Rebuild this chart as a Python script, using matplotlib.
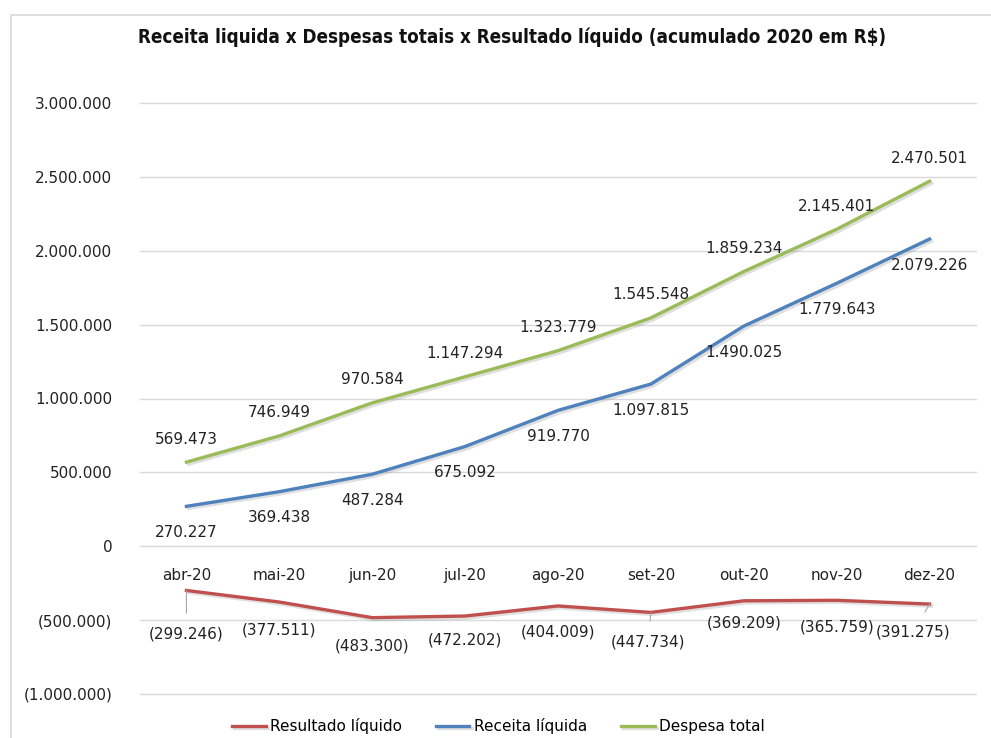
import matplotlib
matplotlib.use("Agg")
import matplotlib.pyplot as plt
from matplotlib.patches import Rectangle
from matplotlib.ticker import FuncFormatter
import matplotlib.patheffects as pe

months = ["abr-20", "mai-20", "jun-20", "jul-20", "ago-20", "set-20", "out-20", "nov-20", "dez-20"]
resultado = [-299246, -377511, -483300, -472202, -404009, -447734, -369209, -365759, -391275]
receita = [270227, 369438, 487284, 675092, 919770, 1097815, 1490025, 1779643, 2079226]
despesa = [569473, 746949, 970584, 1147294, 1323779, 1545548, 1859234, 2145401, 2470501]
yticks = [-1000000, -500000, 0, 500000, 1000000, 1500000, 2000000, 2500000, 3000000]

title = "Receita liquida x Despesas totais x Resultado líquido (acumulado 2020 em R$)"
RED, BLUE, GREEN = "#C0504D", "#4F81BD", "#9BBB59"


def fmt(v):
    s = f"{abs(int(round(v))):,}".replace(",", ".")
    return f"({s})" if v < 0 else s


fig = plt.figure(figsize=(9.91, 7.38), dpi=100)
fig.patches.append(Rectangle((11 / 991, -0.1), 1.2, 1.1 - 15 / 738, transform=fig.transFigure,
                             fill=False, edgecolor="#D9D9D9", linewidth=1.2))
ax = fig.add_axes([140 / 991, 1 - 694 / 738, (976 - 140) / 991, (694 - 103) / 738])

x = list(range(len(months)))
shadow = [pe.SimpleLineShadow(offset=(1.5, -1.5), alpha=0.25, shadow_color="gray"), pe.Normal()]
l1, = ax.plot(x, resultado, color=RED, lw=2.4, label="Resultado líquido", path_effects=shadow, zorder=3)
l2, = ax.plot(x, receita, color=BLUE, lw=2.4, label="Receita líquida", path_effects=shadow, zorder=3)
l3, = ax.plot(x, despesa, color=GREEN, lw=2.4, label="Despesa total", path_effects=shadow, zorder=3)

ax.set_xlim(-0.5, len(months) - 0.5)
ax.set_ylim(-1000000, 3000000)
ax.set_yticks(yticks)
ax.yaxis.set_major_formatter(FuncFormatter(lambda v, p: fmt(v)))
ax.tick_params(axis="y", length=0, pad=20, labelsize=11, labelcolor="#222222")
ax.set_xticks([])
ax.grid(axis="y", color="#D9D9D9", lw=1)
for gl in ax.get_ygridlines():
    gl.set_clip_on(False)
ax.set_axisbelow(True)
for s in ax.spines.values():
    s.set_visible(False)

# category labels just below the zero line
for i, m in enumerate(months):
    ax.annotate(m, (i, 0), xytext=(0, -29), textcoords="offset pixels",
                ha="center", va="center", fontsize=11, color="#222222")

# data labels
for i, v in enumerate(despesa):
    ax.annotate(fmt(v), (i, v), xytext=(0, 23), textcoords="offset pixels",
                ha="center", va="center", fontsize=11, color="#222222")
for i, v in enumerate(receita):
    ax.annotate(fmt(v), (i, v), xytext=(0, -26), textcoords="offset pixels",
                ha="center", va="center", fontsize=11, color="#222222")

res_off = [(0, -44), (0, -28), (0, -28), (0, -24), (0, -26), (-3, -30), (0, -22), (0, -27), (-16, -28)]
res_leader = [True, False, False, False, False, True, False, False, True]
for i, v in enumerate(resultado):
    dx, dy = res_off[i]
    if res_leader[i]:
        ax.annotate(fmt(v), (i, v), xytext=(dx, dy), textcoords="offset pixels",
                    ha="center", va="center", fontsize=11, color="#222222",
                    arrowprops=dict(arrowstyle="-", color="#A6A6A6", lw=0.8,
                                    shrinkA=8, shrinkB=0))
    else:
        ax.annotate(fmt(v), (i, v), xytext=(dx, dy), textcoords="offset pixels",
                    ha="center", va="center", fontsize=11, color="#222222")

fig.text(0.517, 1 - 37 / 738, title, ha="center", va="center", fontsize=13.5,
         fontweight="bold", fontstretch="condensed", color="#111111")

fig.legend(handles=[l1, l2, l3], loc="center", bbox_to_anchor=(0.503, 1 - 726 / 738),
           ncol=3, frameon=False, fontsize=11, handlelength=2.2, handletextpad=0.3,
           columnspacing=2.2)

fig.savefig("out.png", dpi=100, facecolor="white")
